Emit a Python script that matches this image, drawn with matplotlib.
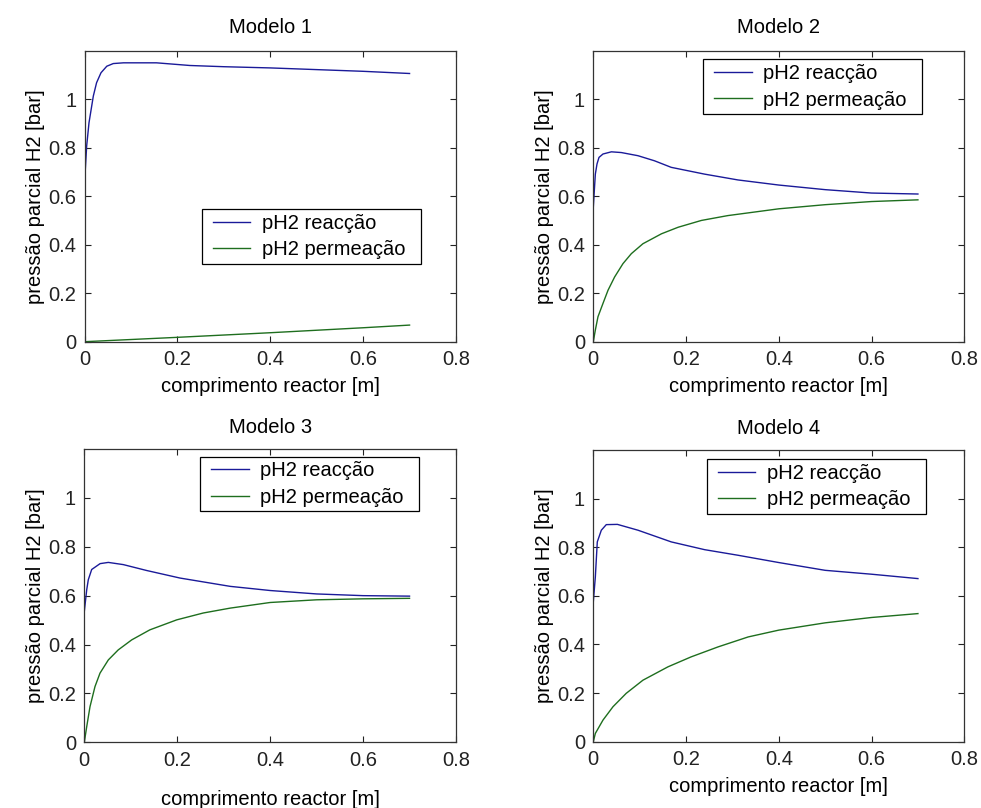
import matplotlib
matplotlib.use("Agg")
import matplotlib.pyplot as plt
from matplotlib.legend_handler import HandlerLine2D
from matplotlib.offsetbox import DrawingArea

plt.rcParams['font.family'] = ['Liberation Sans', 'DejaVu Sans']

titles = ["Modelo 1", "Modelo 2", "Modelo 3", "Modelo 4"]
xlabel = "comprimento reactor [m]"
ylabel = "pressão parcial H2 [bar]"
legend_labels = ["pH2 reacção", "pH2 permeação"]
xticks = [0, 0.2, 0.4, 0.6, 0.8]
xticklabels = ["0", "0.2", "0.4", "0.6", "0.8"]
yticks = [0, 0.2, 0.4, 0.6, 0.8, 1.0]
yticklabels = ["0", "0.2", "0.4", "0.6", "0.8", "1"]

# Modelo 1
m1_xr = [0, 0.0018, 0.0047, 0.0097, 0.019, 0.026, 0.0355, 0.048, 0.062, 0.084, 0.155, 0.227, 0.3, 0.4, 0.5, 0.6, 0.7]
m1_yr = [0.595, 0.712, 0.808, 0.903, 1.013, 1.068, 1.109, 1.136, 1.147, 1.15, 1.15, 1.139, 1.134, 1.129, 1.122, 1.115, 1.106]
m1_xp = [0, 0.2, 0.4, 0.6, 0.7]
m1_yp = [0, 0.018, 0.037, 0.0575, 0.0685]

# Modelo 2
m2_xr = [0, 0.0022, 0.0044, 0.008, 0.0123, 0.0209, 0.039, 0.0604, 0.0963, 0.132, 0.168, 0.24, 0.312, 0.4, 0.5, 0.6, 0.7]
m2_yr = [0.554, 0.623, 0.691, 0.733, 0.760, 0.774, 0.783, 0.780, 0.767, 0.746, 0.719, 0.691, 0.667, 0.646, 0.627, 0.613, 0.609]
m2_xp = [0, 0.0044, 0.0101, 0.0209, 0.0317, 0.046, 0.064, 0.082, 0.107, 0.147, 0.183, 0.233, 0.29, 0.4, 0.5, 0.6, 0.7]
m2_yp = [0, 0.048, 0.103, 0.158, 0.212, 0.267, 0.322, 0.363, 0.404, 0.445, 0.472, 0.5, 0.52, 0.548, 0.565, 0.578, 0.585]

# Modelo 3
m3_xr = [0, 0.0052, 0.0086, 0.0159, 0.034, 0.0517, 0.084, 0.134, 0.206, 0.314, 0.4, 0.5, 0.6, 0.7]
m3_yr = [0.535, 0.624, 0.665, 0.707, 0.731, 0.736, 0.727, 0.703, 0.672, 0.638, 0.621, 0.607, 0.600, 0.598]
m3_xp = [0, 0.0052, 0.0123, 0.023, 0.0338, 0.0517, 0.073, 0.102, 0.141, 0.199, 0.256, 0.314, 0.4, 0.5, 0.6, 0.7]
m3_yp = [0, 0.064, 0.146, 0.228, 0.283, 0.337, 0.378, 0.419, 0.46, 0.501, 0.529, 0.549, 0.572, 0.583, 0.587, 0.589]

# Modelo 4
m4_xr = [0, 0.0044, 0.0086, 0.0173, 0.028, 0.052, 0.0964, 0.168, 0.24, 0.312, 0.4, 0.5, 0.6, 0.7]
m4_yr = [0.575, 0.678, 0.822, 0.870, 0.893, 0.894, 0.870, 0.822, 0.790, 0.767, 0.737, 0.705, 0.689, 0.671]
m4_xp = [0, 0.0044, 0.0209, 0.0425, 0.071, 0.107, 0.161, 0.211, 0.269, 0.334, 0.4, 0.5, 0.6, 0.7]
m4_yp = [0, 0.034, 0.089, 0.144, 0.199, 0.253, 0.308, 0.349, 0.39, 0.431, 0.459, 0.489, 0.511, 0.527]

data = [
    (m1_xr, m1_yr, m1_xp, m1_yp),
    (m2_xr, m2_yr, m2_xp, m2_yp),
    (m3_xr, m3_yr, m3_xp, m3_yp),
    (m4_xr, m4_yr, m4_xp, m4_yp),
]

W, H = 981, 808
fig = plt.figure(figsize=(W / 100, H / 100), dpi=100)

# axes boxes in pixels: left, top, right, bottom
boxes = [
    (84.5, 50.7, 456.0, 341.7),
    (593.3, 50.7, 964.3, 341.7),
    (84.3, 449.0, 456.0, 742.3),
    (593.3, 450.0, 964.3, 741.7),
]
legend_pos = [(0.3155, 0.455), (0.2965, 0.970), (0.311, 0.974), (0.3057, 0.968)]
xlabel_pads = [6, 6, 15, 6]
title_pads = [12.5, 12.5, 11.5, 11.5]

blue = '#1a1a99'
green = '#1e6e1e'
fs = 14.5

for i, (l, t, r, b) in enumerate(boxes):
    ax = fig.add_axes([l / W, 1 - b / H, (r - l) / W, (b - t) / H])
    xr, yr, xp, yp = data[i]
    ax.plot(xr, yr, color=blue, lw=1.0, label=legend_labels[0])
    ax.plot(xp, yp, color=green, lw=1.0, label=legend_labels[1])
    ax.set_xlim(0, 0.8)
    ax.set_ylim(0, 1.2)
    ax.set_xticks(xticks)
    ax.set_xticklabels(xticklabels)
    ax.set_yticks(yticks)
    ax.set_yticklabels(yticklabels)
    ax.tick_params(direction='in', top=True, right=True, length=4, width=0.8,
                   labelsize=fs, pad=6, colors='#222222')
    for s in ax.spines.values():
        s.set_linewidth(0.9)
        s.set_color('#333333')
    ax.set_title(titles[i], fontsize=fs, pad=title_pads[i])
    ax.set_xlabel(xlabel, fontsize=fs, labelpad=xlabel_pads[i])
    ax.set_ylabel(ylabel, fontsize=fs, labelpad=2)
    leg = ax.legend(loc='upper left', bbox_to_anchor=legend_pos[i], fontsize=fs,
                    frameon=True, fancybox=False, framealpha=1, edgecolor='black',
                    handlelength=2.2, handletextpad=0.55, labelspacing=0.38,
                    borderpad=0.22, borderaxespad=0,
                    handler_map={plt.Line2D: HandlerLine2D(xpad=0.33)})
    leg.get_frame().set_linewidth(0.9)
    # extra right padding inside the legend box
    try:
        for col in leg._legend_handle_box.get_children():
            for row in col.get_children():
                row._children.append(DrawingArea(0, 0))
    except Exception:
        pass

fig.savefig("out.png", dpi=100, facecolor='white')
